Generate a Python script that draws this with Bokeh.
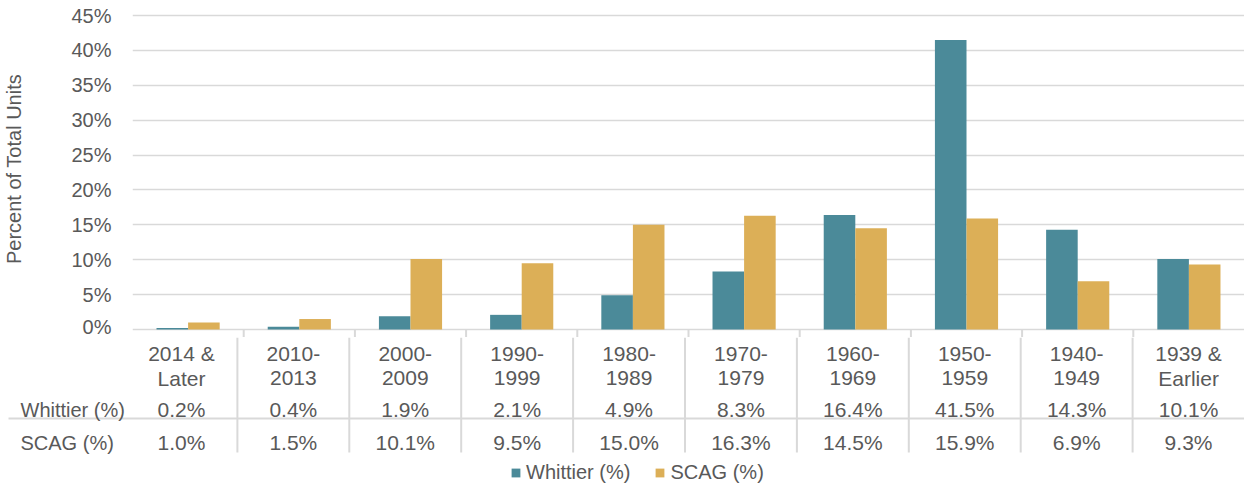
from bokeh.plotting import figure
from bokeh.layouts import column
from bokeh.models import (Range1d, FixedTicker, PrintfTickFormatter, ColumnDataSource,
                          Label, Legend, LegendItem, LinearAxis, Grid)
from bokeh.core.properties import value
from bokeh.embed import file_html
from bokeh.resources import INLINE

# ---------------- data ----------------
categories = ["2014 &\nLater", "2010-\n2013", "2000-\n2009", "1990-\n1999", "1980-\n1989",
              "1970-\n1979", "1960-\n1969", "1950-\n1959", "1940-\n1949", "1939 &\nEarlier"]
whittier = [0.2, 0.4, 1.9, 2.1, 4.9, 8.3, 16.4, 41.5, 14.3, 10.1]
scag = [1.0, 1.5, 10.1, 9.5, 15.0, 16.3, 14.5, 15.9, 6.9, 9.3]
series_names = ["Whittier (%)", "SCAG (%)"]
y_ticks = [0, 5, 10, 15, 20, 25, 30, 35, 40, 45]
y_title = "Percent of Total Units"

# ---------------- style ----------------
FONT = "Liberation Sans"
TXT = "#595959"
GRID = "#d9d9d9"
C_W = "#4b8a99"
C_S = "#dcaf57"
FS = "20px"
FS_T = "21px"

W = 1244
LEFT = 125
H1 = 337             # chart panel (0% line at 329, 45% at 15)
ZERO = 329
H2 = 149             # data table + legend panel
n = len(categories)
cw = (W - LEFT) / n  # pixels per category
centers = [i + 0.5 for i in range(n)]
bounds = list(range(1, n))
bw = 0.284
PX = 314 / 45.0      # pixels per percent point

# ---------------- chart ----------------
p = figure(width=W, height=H1, output_backend="svg", toolbar_location=None,
           x_range=Range1d(0, n), y_range=Range1d(-(H1 - ZERO) / PX, 45 + (ZERO - 314) / PX),
           x_axis_type=None, y_axis_type=None,
           min_border_left=LEFT, min_border_right=0, min_border_top=0, min_border_bottom=0,
           title=None)
p.frame_align = False
p.outline_line_color = None

src = ColumnDataSource(dict(x=centers, w=whittier, s=scag,
                            xw=[c - bw / 2 for c in centers], xs=[c + bw / 2 for c in centers]))
p.vbar(x="xw", top="w", width=bw, bottom=0, source=src, fill_color=C_W, line_color=None)
p.vbar(x="xs", top="s", width=bw, bottom=0, source=src, fill_color=C_S, line_color=None)

yax = LinearAxis(ticker=FixedTicker(ticks=y_ticks), formatter=PrintfTickFormatter(format="%d%%"))
yax.axis_line_color = None
yax.major_tick_line_color = None
yax.minor_tick_line_color = None
yax.major_label_standoff = 15
yax.major_label_text_font = FONT
yax.major_label_text_font_size = FS
yax.major_label_text_color = TXT
yax.axis_label = y_title
yax.axis_label_text_font = FONT
yax.axis_label_text_font_size = FS
yax.axis_label_text_font_style = "normal"
yax.axis_label_text_color = TXT
yax.axis_label_standoff = 43
p.add_layout(yax, "left")
p.add_layout(Grid(dimension=1, ticker=FixedTicker(ticks=y_ticks),
                  grid_line_color=GRID, grid_line_width=1.5))

# top part of the table's column separators (just under the 0% line)
p.segment(x0=bounds, y0=0, x1=bounds, y1=-(H1 - ZERO) / PX, line_color=GRID, line_width=2)

# ---------------- data table ----------------
t = figure(width=W, height=H2, output_backend="svg", toolbar_location=None,
           x_range=Range1d(-LEFT / cw, n), y_range=Range1d(H2, 0),
           x_axis_type=None, y_axis_type=None,
           min_border_left=0, min_border_right=0, min_border_top=0, min_border_bottom=0,
           title=None)
t.frame_align = False
t.outline_line_color = None
t.grid.visible = False

row_h1, row_h2, row_w, row_s = 16.3, 40.7, 72.0, 105.3
sep_y, tab_bottom = 81.0, 115.0

line1 = [c.split("\n")[0] for c in categories]
line2 = [c.split("\n")[1] for c in categories]
tsrc = ColumnDataSource(dict(x=centers, l1=line1, l2=line2,
                             w=[f"{v:.1f}%" for v in whittier],
                             s=[f"{v:.1f}%" for v in scag]))
common = dict(x="x", source=tsrc, text_align="center", text_baseline="alphabetic",
              text_font=value(FONT), text_font_size=FS_T, text_color=TXT)
t.text(y=row_h1, text="l1", **common)
t.text(y=row_h2, text="l2", **common)
t.text(y=row_w, text="w", **common)
t.text(y=row_s, text="s", **common)

t.segment(x0=bounds, y0=0, x1=bounds, y1=tab_bottom, line_color=GRID, line_width=2)
t.segment(x0=[-(LEFT - 8) / cw], y0=[sep_y], x1=[n], y1=[sep_y], line_color=GRID, line_width=2)

for name, yy in zip(series_names, [row_w, row_s]):
    t.add_layout(Label(x=20, x_units="screen", y=yy, text=name, text_align="left",
                       text_baseline="alphabetic", text_font=FONT, text_font_size=FS,
                       text_color=TXT))

# legend swatches: the series' bars, kept hidden in this panel
k1 = t.vbar(x="xw", top="w", width=bw, bottom=0, source=src, fill_color=C_W,
            line_color=None, visible=False)
k2 = t.vbar(x="xs", top="s", width=bw, bottom=0, source=src, fill_color=C_S,
            line_color=None, visible=False)
legend = Legend(items=[LegendItem(label=series_names[0], renderers=[k1]),
                       LegendItem(label=series_names[1], renderers=[k2])],
                orientation="horizontal", location=(510, 2),
                border_line_color=None, background_fill_alpha=0,
                inactive_fill_alpha=0,
                padding=0, margin=0, glyph_width=11, glyph_height=11,
                label_standoff=5, spacing=24,
                label_text_font=FONT, label_text_font_size=FS, label_text_color=TXT)
t.add_layout(legend)

layout = column(p, t, spacing=0)
open("out.html", "w").write(file_html(layout, INLINE))
